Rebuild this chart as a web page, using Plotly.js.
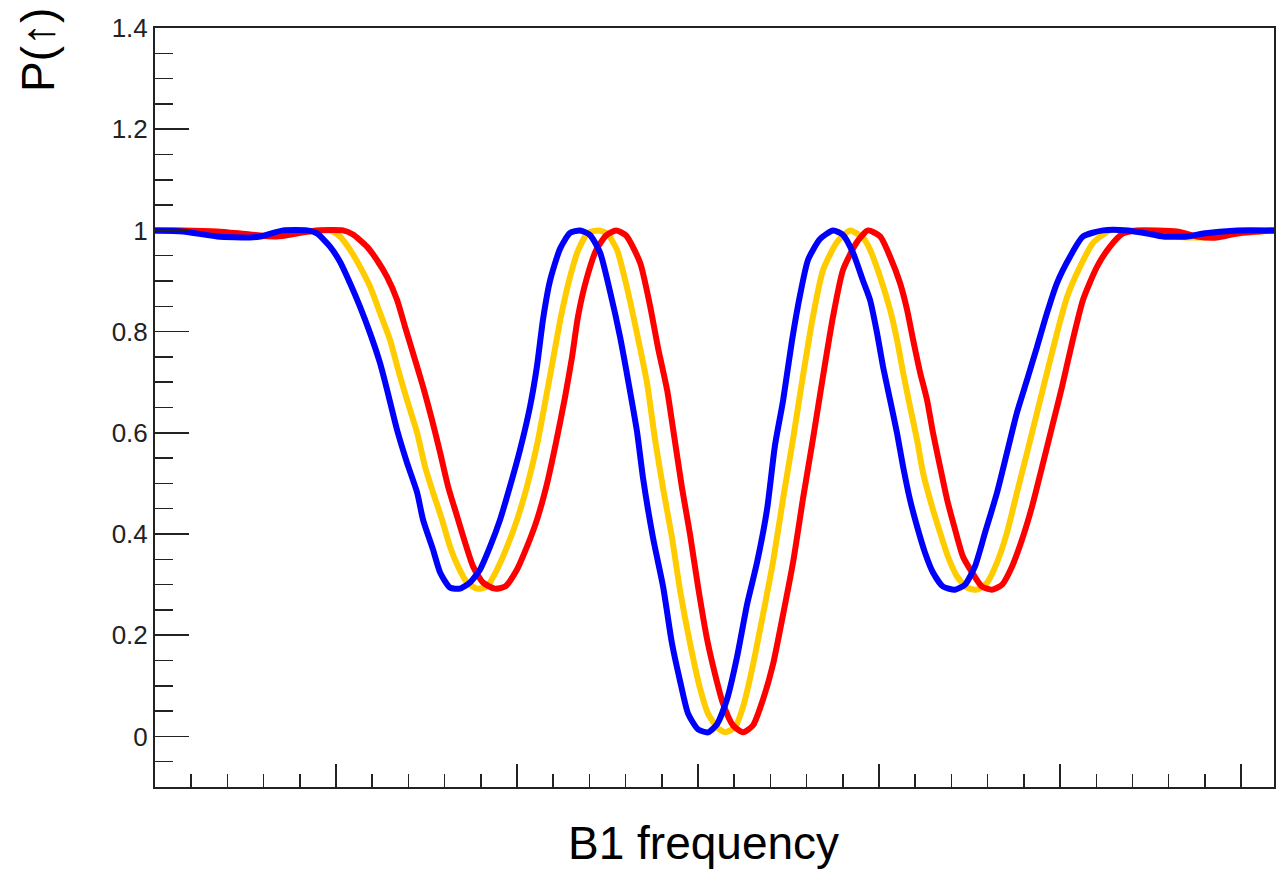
<!DOCTYPE html>
<html>
<head>
<meta charset="utf-8">
<script src="https://cdn.plot.ly/plotly-3.0.1.min.js"></script>
<style>
  html, body { margin: 0; padding: 0; background: #ffffff; }
  #chart { width: 1286px; height: 871px; }
</style>
</head>
<body>
<div id="chart"></div>
<script>
// B1 frequency in arbitrary units (one major tick = 1 unit), P(up) values
var blueX = [0,0.155,0.343,0.525,0.580,0.707,0.840,0.895,0.967,1.022,1.077,1.133,1.188,1.243,1.282,1.337,1.392,1.448,1.481,1.536,1.575,1.630,1.685,1.740,1.796,1.851,1.906,1.961,2.017,2.072,2.110,2.144,2.182,2.238,2.293,2.348,2.403,2.459,2.514,2.569,2.613,2.663,2.696,2.751,2.807,2.856,2.901,2.945,3.000,3.055,3.105,3.160,3.215,3.271,3.326,3.381,3.425,3.470,3.519,3.564,3.608,3.674,3.746,3.801,3.856,3.912,3.950,3.989,4.022,4.061,4.099,4.133,4.171,4.210,4.254,4.298,4.354,4.420,4.475,4.530,4.586,4.652,4.707,4.762,4.818,4.873,4.928,4.983,5.055,5.127,5.238,5.370,5.481,5.569,5.702,5.790,5.978,6.182];
var blueY = [1.0,0.998,0.988,0.986,0.988,1.0,1.0,0.994,0.968,0.938,0.896,0.849,0.797,0.738,0.685,0.606,0.541,0.482,0.428,0.369,0.324,0.294,0.292,0.304,0.330,0.375,0.428,0.494,0.567,0.652,0.731,0.825,0.900,0.964,0.995,1.0,0.991,0.956,0.879,0.790,0.705,0.602,0.511,0.393,0.296,0.184,0.109,0.045,0.014,0.008,0.024,0.073,0.156,0.261,0.344,0.448,0.575,0.664,0.782,0.873,0.942,0.983,1.0,0.991,0.956,0.900,0.863,0.797,0.731,0.665,0.600,0.533,0.468,0.415,0.363,0.324,0.296,0.290,0.300,0.336,0.403,0.482,0.561,0.640,0.705,0.770,0.837,0.896,0.948,0.988,1.0,1.0,0.994,0.988,0.988,0.994,1.0,1.0];

var redX = [0,0.155,0.343,0.525,0.674,0.785,0.895,1.039,1.094,1.171,1.227,1.282,1.337,1.381,1.425,1.481,1.530,1.575,1.619,1.669,1.713,1.757,1.812,1.878,1.934,2.000,2.055,2.110,2.166,2.215,2.265,2.304,2.337,2.381,2.436,2.492,2.547,2.602,2.680,2.735,2.779,2.829,2.862,2.912,2.956,3.000,3.050,3.094,3.138,3.193,3.249,3.304,3.359,3.414,3.470,3.525,3.580,3.635,3.691,3.746,3.801,3.878,3.939,4.006,4.061,4.116,4.155,4.188,4.227,4.265,4.298,4.337,4.376,4.420,4.464,4.514,4.569,4.624,4.680,4.735,4.790,4.845,4.901,4.956,5.011,5.066,5.127,5.204,5.276,5.348,5.425,5.536,5.646,5.757,5.867,5.978,6.182];
var redY = [1.0,1.0,0.998,0.992,0.988,0.994,1.0,1.0,0.992,0.968,0.941,0.908,0.863,0.810,0.758,0.691,0.626,0.561,0.494,0.435,0.383,0.336,0.304,0.292,0.296,0.330,0.375,0.428,0.500,0.580,0.670,0.750,0.830,0.900,0.960,0.990,1.0,0.990,0.936,0.851,0.768,0.685,0.608,0.490,0.399,0.296,0.192,0.123,0.065,0.022,0.008,0.022,0.073,0.142,0.241,0.344,0.470,0.588,0.713,0.830,0.922,0.977,1.0,0.988,0.948,0.896,0.843,0.784,0.719,0.665,0.600,0.533,0.468,0.409,0.355,0.324,0.296,0.290,0.300,0.336,0.389,0.454,0.533,0.612,0.691,0.777,0.863,0.928,0.968,0.994,1.0,1.0,0.998,0.988,0.986,0.994,1.0];

var goldX = [0,0.249,0.442,0.608,0.773,0.884,0.967,1.022,1.077,1.133,1.188,1.243,1.298,1.343,1.392,1.448,1.492,1.536,1.586,1.630,1.674,1.724,1.779,1.834,1.890,1.945,2.000,2.055,2.110,2.155,2.199,2.243,2.287,2.337,2.392,2.448,2.497,2.552,2.608,2.663,2.718,2.762,2.807,2.856,2.901,2.956,3.011,3.055,3.105,3.149,3.204,3.249,3.304,3.359,3.414,3.470,3.525,3.580,3.635,3.691,3.768,3.840,3.912,3.950,4.006,4.061,4.099,4.133,4.171,4.210,4.243,4.293,4.337,4.381,4.431,4.486,4.541,4.597,4.652,4.707,4.762,4.818,4.873,4.928,4.983,5.039,5.110,5.182,5.276,5.387,5.514,5.646,5.790,5.978,6.182];
var goldY = [1.0,0.998,0.990,0.988,0.995,1.0,1.0,0.988,0.962,0.928,0.889,0.837,0.784,0.725,0.665,0.600,0.533,0.482,0.428,0.375,0.336,0.304,0.292,0.296,0.330,0.375,0.428,0.494,0.575,0.660,0.745,0.830,0.900,0.960,0.995,1.0,0.994,0.962,0.886,0.796,0.699,0.588,0.490,0.393,0.288,0.184,0.095,0.045,0.018,0.008,0.018,0.059,0.142,0.241,0.344,0.470,0.588,0.713,0.830,0.922,0.977,1.0,0.985,0.962,0.908,0.843,0.784,0.719,0.652,0.586,0.521,0.454,0.403,0.355,0.316,0.294,0.290,0.304,0.344,0.403,0.482,0.561,0.640,0.719,0.797,0.869,0.928,0.975,1.0,1.0,0.998,0.988,0.986,0.994,1.0];

var seriesColors = {gold: '#FFCC00', red: '#FF0000', blue: '#0000FF'};
var xTitle = 'B1 frequency';
var yTitle = 'P(\u2191)';

function lineTrace(x, y, color) {
  return {x: x, y: y, type: 'scatter', mode: 'lines',
          line: {color: color, width: 6, shape: 'spline', smoothing: 0.6},
          hoverinfo: 'skip', showlegend: false};
}

var data = [
  lineTrace(goldX, goldY, seriesColors.gold),
  lineTrace(redX, redY, seriesColors.red),
  lineTrace(blueX, blueY, seriesColors.blue)
];

var axisColor = '#222222';
var layout = {
  width: 1286, height: 871,
  margin: {l: 155, r: 12, t: 28, b: 84, pad: 0},
  paper_bgcolor: '#ffffff', plot_bgcolor: '#ffffff',
  font: {family: '"Liberation Sans", Arial, sans-serif', color: '#222222'},
  xaxis: {
    range: [0, 6.182], tick0: 0, dtick: 1,
    showticklabels: false, ticks: 'inside', ticklen: 23, tickwidth: 1.5, tickcolor: axisColor,
    minor: {ticks: 'inside', ticklen: 13, dtick: 0.2, tickwidth: 1.5, tickcolor: axisColor, showgrid: false},
    showline: true, linecolor: axisColor, linewidth: 2, mirror: true,
    showgrid: false, zeroline: false, fixedrange: true
  },
  yaxis: {
    range: [-0.1, 1.4], tick0: 0, dtick: 0.2,
    ticks: 'inside', ticklen: 34, tickwidth: 1.5, tickcolor: axisColor,
    minor: {ticks: 'inside', ticklen: 18, dtick: 0.05, tickwidth: 1.5, tickcolor: axisColor, showgrid: false},
    tickfont: {family: '"Liberation Sans", Arial, sans-serif', size: 26, color: '#222222'},
    showline: true, linecolor: axisColor, linewidth: 2, mirror: true,
    showgrid: false, zeroline: false, fixedrange: true
  },
  annotations: [
    {text: xTitle, xref: 'paper', yref: 'paper', x: 0.4906, y: 0,
     xanchor: 'center', yanchor: 'middle', yshift: -56, showarrow: false,
     font: {family: '"Liberation Sans", Arial, sans-serif', size: 46, color: '#000000'}},
    {text: yTitle, xref: 'paper', yref: 'paper', x: 0, y: 1, textangle: -90,
     xanchor: 'center', yanchor: 'middle', xshift: -117, yshift: -22, showarrow: false,
     font: {family: '"Liberation Sans", Arial, sans-serif', size: 46, color: '#000000'}}
  ]
};

Plotly.newPlot('chart', data, layout, {staticPlot: true, displayModeBar: false});
</script>
</body>
</html>
